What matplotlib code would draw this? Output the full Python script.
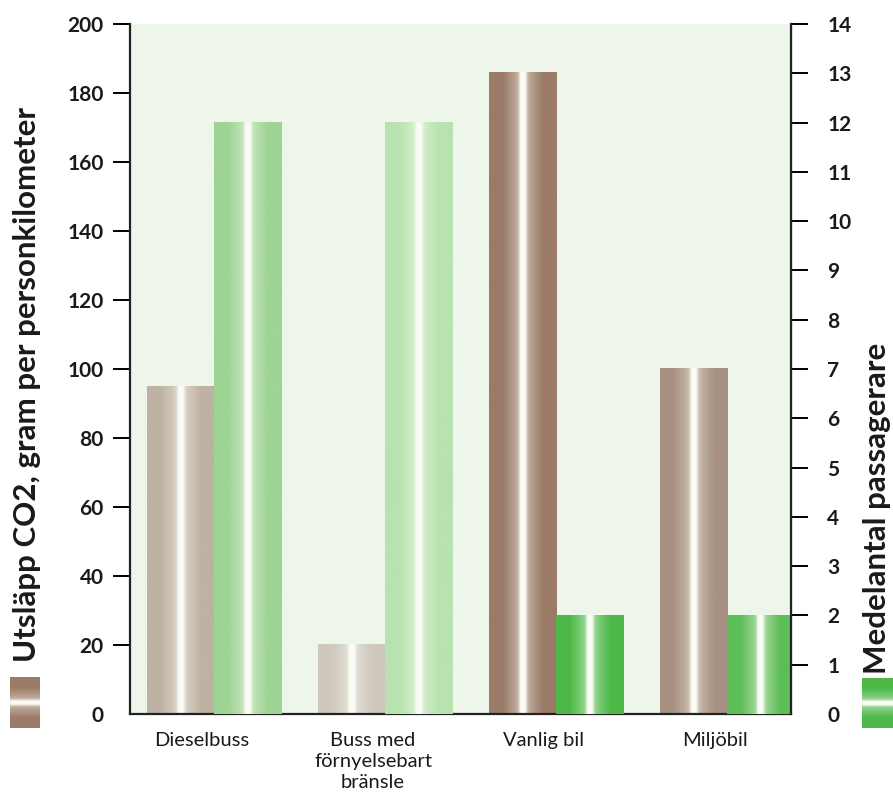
import matplotlib.pyplot as plt
import numpy as np
from matplotlib.colors import to_rgb

categories = ["Dieselbuss", "Buss med\nförnyelsebart\nbränsle", "Vanlig bil", "Miljöbil"]
co2 = [95, 20, 186, 100]            # gram per personkilometer (left axis)
passengers = [12, 12, 2, 2]         # medelantal passagerare (right axis)
co2_colors = ["#BFB2A3", "#CFC8BC", "#9B7B68", "#A89182"]
pass_colors = ["#9ED494", "#B8E3B0", "#4DB848", "#5DBE57"]

BG = "#EEF6EC"
HIGHLIGHT = np.array([0.98, 0.99, 0.96])
TEXT = "#1a1a1a"
plt.rcParams['font.family'] = ['Lato', 'DejaVu Sans']


def shine(color, n=200, vertical=False):
    t = np.linspace(0, 1, n)
    w = 0.95 * np.exp(-((t - 0.5) / 0.05) ** 2) + 0.5 * np.clip(1 - np.abs(t - 0.5) / 0.3, 0, 1)
    w = np.clip(w, 0, 1)[:, None]
    base = np.array(to_rgb(color))
    img = base * (1 - w) + HIGHLIGHT * w
    if vertical:
        return img[:, None, :]
    return img[None, :, :]


def gradient_bar(ax, x0, width, height, color):
    ax.imshow(shine(color), extent=[x0, x0 + width, 0, height],
              aspect='auto', interpolation='bicubic', zorder=2)


fig = plt.figure(figsize=(8.93, 8), dpi=100)
ax = fig.add_axes([130 / 893, 1 - 714 / 800, 661 / 893, 690 / 800])
ax.set_facecolor(BG)
ax2 = ax.twinx()

x = np.arange(len(categories))
width = 0.392
for i in range(len(categories)):
    gradient_bar(ax, x[i] - width, width, co2[i], co2_colors[i])
    gradient_bar(ax2, x[i], width, passengers[i], pass_colors[i])

for a in (ax, ax2):
    a.set_xlim(-0.491, 3.374)
ax.set_ylim(0, 200)
ax2.set_ylim(0, 14)

ax.set_yticks(np.arange(0, 201, 20))
ax2.set_yticks(np.arange(0, 15, 1))
ax.set_yticklabels([str(v) for v in range(0, 201, 20)])
ax2.set_yticklabels([str(v) for v in range(0, 15)])
ax.set_xticks(x - 0.07)
ax.set_xticklabels(categories, fontsize=14.5, color=TEXT, linespacing=1.3)
ax.tick_params(axis='x', length=0, pad=13)
ax.tick_params(axis='y', length=12, width=1.4, pad=7, labelsize=15, labelcolor=TEXT)
ax2.tick_params(axis='y', length=12, width=1.4, pad=14, labelsize=15, labelcolor=TEXT)
for lab in ax.get_yticklabels() + ax2.get_yticklabels():
    lab.set_fontweight('bold')
ax.yaxis.get_major_ticks()[0].tick1line.set_visible(False)
ax2.yaxis.get_major_ticks()[0].tick2line.set_visible(False)

ax.spines['top'].set_visible(False)
for s in ('top', 'left', 'bottom'):
    ax2.spines[s].set_visible(False)
for s in ('left', 'bottom'):
    ax.spines[s].set_linewidth(1.6)
    ax.spines[s].set_color('#222222')
ax2.spines['right'].set_linewidth(1.6)
ax2.spines['right'].set_color('#222222')

fig.text(27 / 893, 1 - 385 / 800, "Utsläpp CO2, gram per personkilometer", rotation=90,
         ha='center', va='center', fontsize=22.5, fontweight='bold', color=TEXT)
fig.text(877 / 893, 1 - 508 / 800, "Medelantal passagerare", rotation=90,
         ha='center', va='center', fontsize=22.5, fontweight='bold', color=TEXT)

# small legend squares beside the axis titles
for rect, color in (([10 / 893, 1 - 728 / 800, 30 / 893, 51 / 800], co2_colors[2]),
                    ([862 / 893, 1 - 728 / 800, 31 / 893, 50 / 800], pass_colors[2])):
    sq = fig.add_axes(rect)
    sq.imshow(shine(color, vertical=True), aspect='auto', interpolation='bicubic')
    sq.axis('off')

fig.savefig("out.png", dpi=100)
